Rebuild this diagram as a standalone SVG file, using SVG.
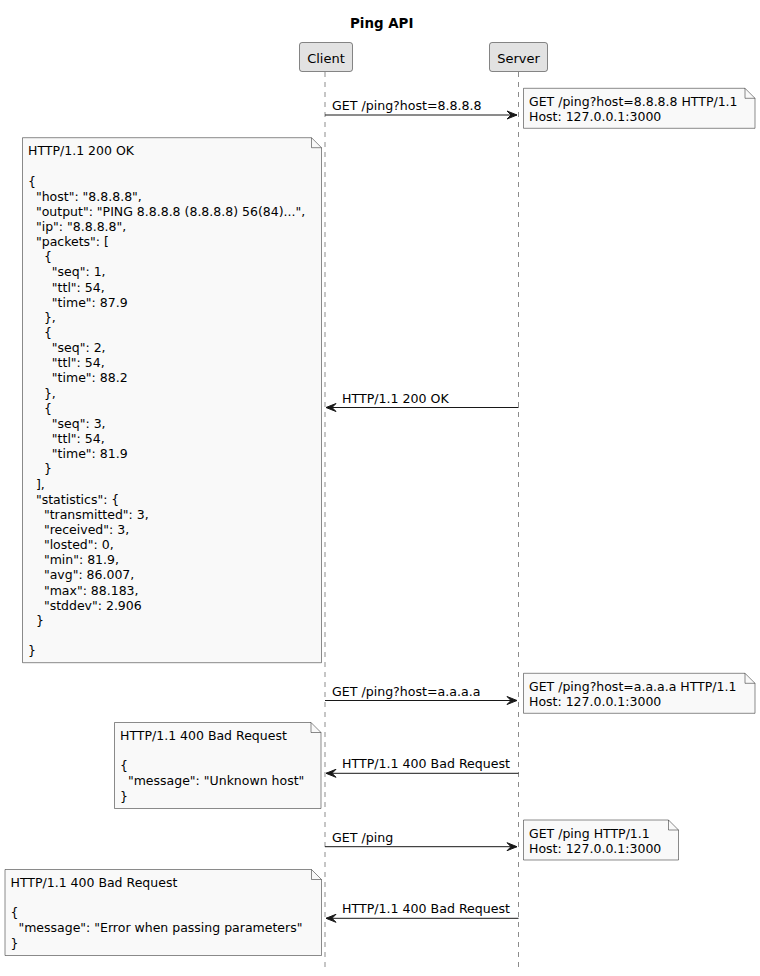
<svg xmlns="http://www.w3.org/2000/svg" width="760" height="976" viewBox="0 0 760 976">
<style>
text{font-family:"DejaVu Sans","Noto Sans",sans-serif;fill:#000;white-space:pre}
.title{font-size:13.4px;font-weight:bold}
.part{font-size:13px}
.msg{font-size:12.6px}
.nt{font-size:12.5px}
.box{fill:#E2E2E2;stroke:#181818;stroke-width:0.5}
.life{stroke:#181818;stroke-width:0.5;stroke-dasharray:5,5;fill:none}
.note{fill:#F9F9F9;stroke:#181818;stroke-width:0.5}
.fold{fill:none;stroke:#181818;stroke-width:0.5}
.line{stroke:#181818;stroke-width:1;fill:none}
.head{fill:#181818;stroke:#181818;stroke-width:1}
</style>
<rect width="760" height="976" fill="#FFFFFF"/>
<text class="title" x="381.7" y="28" text-anchor="middle">Ping API</text>

<g id="lifelines">
<line class="life" x1="325" y1="72" x2="325" y2="968"/>
<line class="life" x1="518.5" y1="72" x2="518.5" y2="968"/>
</g>

<g id="client">
<rect class="box" x="299.5" y="42.5" width="53" height="29" rx="2.5"/>
<text class="part" x="326" y="62.5" text-anchor="middle">Client</text>
</g>
<g id="server">
<rect class="box" x="489.5" y="42.5" width="58" height="29" rx="2.5"/>
<text class="part" x="518.5" y="62.5" text-anchor="middle">Server</text>
</g>

<g id="connectors">
<line class="line" x1="325" y1="115" x2="517" y2="115"/>
<polygon class="head" points="507,111 517,115 507,119 511,115"/>
<text class="msg" x="332" y="110">GET /ping?host=8.8.8.8</text>

<line class="line" x1="326" y1="407.5" x2="518.5" y2="407.5"/>
<polygon class="head" points="336,403.5 326,407.5 336,411.5 332,407.5"/>
<text class="msg" x="342" y="403">HTTP/1.1 200 OK</text>

<line class="line" x1="325" y1="700.5" x2="517" y2="700.5"/>
<polygon class="head" points="507,696.5 517,700.5 507,704.5 511,700.5"/>
<text class="msg" x="332" y="695.5">GET /ping?host=a.a.a.a</text>

<line class="line" x1="326" y1="773.3" x2="518.5" y2="773.3"/>
<polygon class="head" points="336,769.3 326,773.3 336,777.3 332,773.3"/>
<text class="msg" x="342" y="768">HTTP/1.1 400 Bad Request</text>

<line class="line" x1="325" y1="846.7" x2="517" y2="846.7"/>
<polygon class="head" points="507,842.7 517,846.7 507,850.7 511,846.7"/>
<text class="msg" x="332" y="841.5">GET /ping</text>

<line class="line" x1="326" y1="918.3" x2="518.5" y2="918.3"/>
<polygon class="head" points="336,914.3 326,918.3 336,922.3 332,918.3"/>
<text class="msg" x="342" y="913">HTTP/1.1 400 Bad Request</text>
</g>

<g id="note1">
<path class="note" d="M523.5,88.3 L523.5,128.3 L755,128.3 L755,98.3 L745,88.3 Z"/>
<path class="fold" d="M745,88.3 L745,98.3 L755,98.3"/>
<text class="nt" x="529" y="105.8">GET /ping?host=8.8.8.8 HTTP/1.1</text>
<text class="nt" x="529" y="120.95">Host: 127.0.0.1:3000</text>
</g>

<g id="note2">
<path class="note" d="M22.5,137.7 L22.5,662.7 L321.5,662.7 L321.5,147.7 L311.5,137.7 Z"/>
<path class="fold" d="M311.5,137.7 L311.5,147.7 L321.5,147.7"/>
<text class="nt" xml:space="preserve" x="28"><tspan x="28" y="155.2">HTTP/1.1 200 OK</tspan><tspan x="28" y="185.5">{</tspan><tspan x="28" y="200.65">  "host": "8.8.8.8",</tspan><tspan x="28" y="215.8">  "output": "PING 8.8.8.8 (8.8.8.8) 56(84)...",</tspan><tspan x="28" y="230.95">  "ip": "8.8.8.8",</tspan><tspan x="28" y="246.1">  "packets": [</tspan><tspan x="28" y="261.25">    {</tspan><tspan x="28" y="276.4">      "seq": 1,</tspan><tspan x="28" y="291.55">      "ttl": 54,</tspan><tspan x="28" y="306.7">      "time": 87.9</tspan><tspan x="28" y="321.85">    },</tspan><tspan x="28" y="337">    {</tspan><tspan x="28" y="352.15">      "seq": 2,</tspan><tspan x="28" y="367.3">      "ttl": 54,</tspan><tspan x="28" y="382.45">      "time": 88.2</tspan><tspan x="28" y="397.6">    },</tspan><tspan x="28" y="412.75">    {</tspan><tspan x="28" y="427.9">      "seq": 3,</tspan><tspan x="28" y="443.05">      "ttl": 54,</tspan><tspan x="28" y="458.2">      "time": 81.9</tspan><tspan x="28" y="473.35">    }</tspan><tspan x="28" y="488.5">  ],</tspan><tspan x="28" y="503.65">  "statistics": {</tspan><tspan x="28" y="518.8">    "transmitted": 3,</tspan><tspan x="28" y="533.95">    "received": 3,</tspan><tspan x="28" y="549.1">    "losted": 0,</tspan><tspan x="28" y="564.25">    "min": 81.9,</tspan><tspan x="28" y="579.4">    "avg": 86.007,</tspan><tspan x="28" y="594.55">    "max": 88.183,</tspan><tspan x="28" y="609.7">    "stddev": 2.906</tspan><tspan x="28" y="624.85">  }</tspan><tspan x="28" y="655.15">}</tspan></text>
</g>

<g id="note3">
<path class="note" d="M523.5,673.3 L523.5,713.3 L755,713.3 L755,683.3 L745,673.3 Z"/>
<path class="fold" d="M745,673.3 L745,683.3 L755,683.3"/>
<text class="nt" x="529" y="690.8">GET /ping?host=a.a.a.a HTTP/1.1</text>
<text class="nt" x="529" y="705.95">Host: 127.0.0.1:3000</text>
</g>

<g id="note4">
<path class="note" d="M114.5,722.5 L114.5,808.5 L321,808.5 L321,732.5 L311,722.5 Z"/>
<path class="fold" d="M311,722.5 L311,732.5 L321,732.5"/>
<text class="nt" xml:space="preserve" x="120"><tspan x="120" y="740">HTTP/1.1 400 Bad Request</tspan><tspan x="120" y="770.3">{</tspan><tspan x="120" y="785.45">  "message": "Unknown host"</tspan><tspan x="120" y="800.6">}</tspan></text>
</g>

<g id="note5">
<path class="note" d="M523.5,820 L523.5,860 L678.5,860 L678.5,830 L668.5,820 Z"/>
<path class="fold" d="M668.5,820 L668.5,830 L678.5,830"/>
<text class="nt" x="529" y="837.5">GET /ping HTTP/1.1</text>
<text class="nt" x="529" y="852.65">Host: 127.0.0.1:3000</text>
</g>

<g id="note6">
<path class="note" d="M5,869.5 L5,955.5 L321.5,955.5 L321.5,879.5 L311.5,869.5 Z"/>
<path class="fold" d="M311.5,869.5 L311.5,879.5 L321.5,879.5"/>
<text class="nt" xml:space="preserve" x="10.5"><tspan x="10.5" y="887">HTTP/1.1 400 Bad Request</tspan><tspan x="10.5" y="917.3">{</tspan><tspan x="10.5" y="932.45">  "message": "Error when passing parameters"</tspan><tspan x="10.5" y="947.6">}</tspan></text>
</g>
</svg>
